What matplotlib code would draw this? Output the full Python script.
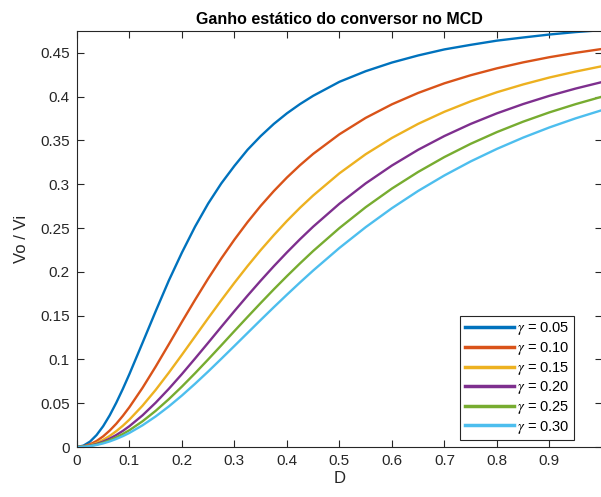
import matplotlib
matplotlib.use("Agg")
import matplotlib.pyplot as plt
from matplotlib.ticker import FuncFormatter

plt.rcParams["font.family"] = ["Liberation Sans", "DejaVu Sans"]
plt.rcParams["mathtext.fontset"] = "stix"

# Duty cycle values (x axis)
duty = [0, 0.0125, 0.025, 0.0375, 0.05, 0.0625, 0.075, 0.0875,
        0.1, 0.125, 0.15, 0.175, 0.2, 0.225, 0.25, 0.275,
        0.3, 0.325, 0.35, 0.375, 0.4, 0.425, 0.45, 0.5, 0.55,
        0.6, 0.65, 0.7, 0.75, 0.8, 0.85, 0.9, 0.95, 1.0]

# Static gain Vo/Vi, one list per gamma
gain_005 = [0, 0.0016, 0.0062, 0.0137, 0.0238, 0.0362, 0.0506, 0.0664,
            0.0833, 0.119, 0.155, 0.190, 0.222, 0.2516, 0.278, 0.3010,
            0.321, 0.3394, 0.355, 0.3689, 0.381, 0.3916, 0.401, 0.417, 0.4291,
            0.439, 0.4471, 0.454, 0.4592, 0.464, 0.4676, 0.471, 0.4738, 0.476]
gain_010 = [0, 0.0008, 0.0031, 0.0069, 0.0122, 0.0188, 0.0266, 0.0356,
            0.0455, 0.0676, 0.0918, 0.1172, 0.1429, 0.1680, 0.1923, 0.2153,
            0.2368, 0.2568, 0.2753, 0.2922, 0.3077, 0.3218, 0.3347, 0.3571, 0.3758,
            0.3913, 0.4043, 0.4153, 0.4245, 0.4324, 0.4392, 0.4451, 0.4501, 0.4545]
gain_015 = [0, 0.0005, 0.0021, 0.0046, 0.0082, 0.0127, 0.0181, 0.0243,
            0.0313, 0.0472, 0.0652, 0.0848, 0.1053, 0.1262, 0.1471, 0.1676,
            0.1875, 0.2066, 0.2248, 0.2419, 0.2581, 0.2732, 0.2872, 0.3125, 0.3343,
            0.3529, 0.3690, 0.3828, 0.3947, 0.4051, 0.4140, 0.4219, 0.4287, 0.4348]
gain_020 = [0, 0.0004, 0.0016, 0.0035, 0.0062, 0.0096, 0.0137, 0.0184,
            0.0238, 0.0362, 0.0506, 0.0664, 0.0833, 0.1010, 0.1190, 0.1372,
            0.1552, 0.1728, 0.1899, 0.2064, 0.2222, 0.2373, 0.2516, 0.2778, 0.3010,
            0.3214, 0.3394, 0.3551, 0.3689, 0.3810, 0.3916, 0.4010, 0.4093, 0.4167]
gain_025 = [0, 0.0003, 0.0012, 0.0028, 0.0050, 0.0077, 0.0110, 0.0149,
            0.0192, 0.0294, 0.0413, 0.0546, 0.0690, 0.0842, 0.1000, 0.1161,
            0.1324, 0.1485, 0.1644, 0.1800, 0.1951, 0.2097, 0.2238, 0.2500, 0.2738,
            0.2951, 0.3141, 0.3311, 0.3462, 0.3596, 0.3715, 0.3821, 0.3915, 0.4000]
gain_030 = [0, 0.0003, 0.0010, 0.0023, 0.0041, 0.0064, 0.0092, 0.0124,
            0.0161, 0.0248, 0.0349, 0.0463, 0.0588, 0.0722, 0.0862, 0.1007,
            0.1154, 0.1302, 0.1450, 0.1596, 0.1739, 0.1879, 0.2015, 0.2273, 0.2510,
            0.2727, 0.2924, 0.3101, 0.3261, 0.3404, 0.3533, 0.3649, 0.3753, 0.3846]

gammas = ["0.05", "0.10", "0.15", "0.20", "0.25", "0.30"]
series = [gain_005, gain_010, gain_015, gain_020, gain_025, gain_030]
colors = ["#0072BD", "#D95319", "#EDB120", "#7E2F8E", "#77AC30", "#4DBEEE"]

x_ticks = [0, 0.1, 0.2, 0.3, 0.4, 0.5, 0.6, 0.7, 0.8, 0.9]
y_ticks = [0, 0.05, 0.1, 0.15, 0.2, 0.25, 0.3, 0.35, 0.4, 0.45]

fig = plt.figure(figsize=(6.01, 4.97), dpi=100)
ax = fig.add_axes([0.128, 0.1006, 0.8735, 0.837])

for g, vals, c in zip(gammas, series, colors):
    ax.plot(duty, vals, color=c, linewidth=1.7, label=r"$\gamma$ = " + g,
            solid_joinstyle="round")

ax.set_xlim(0, 1)
ax.set_ylim(0, 0.475)
ax.set_xticks(x_ticks)
ax.set_yticks(y_ticks)
fmt = FuncFormatter(lambda v, p: "%g" % v)
ax.xaxis.set_major_formatter(fmt)
ax.yaxis.set_major_formatter(fmt)

dark = "#262626"
ax.tick_params(direction="in", top=True, right=True, length=5, width=0.8,
               colors=dark, labelsize=11, pad=5)
for s in ax.spines.values():
    s.set_color(dark)
    s.set_linewidth(0.8)

ax.set_title("Ganho estático do conversor no MCD", fontsize=11.5,
             fontweight="bold", color="black", pad=5)
ax.set_xlabel("D", fontsize=12, color=dark, labelpad=2)
ax.set_ylabel("Vo / Vi", fontsize=12, color=dark, labelpad=8)

leg = ax.legend(loc="lower right", bbox_to_anchor=(0.947, 0.017), borderaxespad=0,
                fontsize=10.5, handlelength=3.4, handletextpad=0.2,
                labelspacing=0.18, borderpad=0.3, fancybox=False,
                framealpha=1, edgecolor=dark)
leg.get_frame().set_linewidth(0.8)
for line in leg.get_lines():
    line.set_linewidth(2.5)

fig.savefig("out.png", dpi=100)
